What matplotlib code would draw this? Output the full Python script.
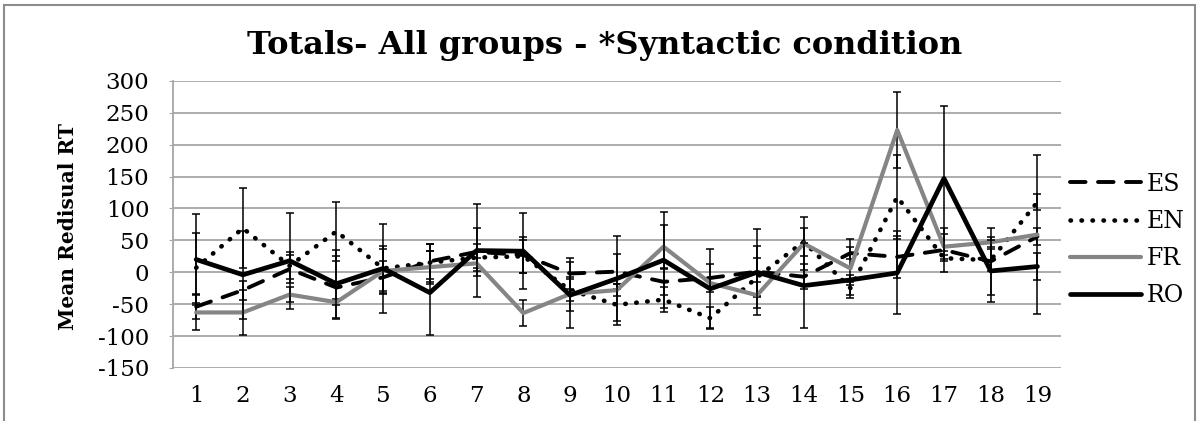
import matplotlib.pyplot as plt
from matplotlib.patches import Rectangle
from matplotlib.lines import Line2D

# categories 1..19
items = list(range(1, 20))
yticks = list(range(-150, 301, 50))

# group means
es = [-54, -28, 5, -24, -8, 17, 32, 27, -2, 1, -15, -9, 1, -7, 30, 24, 35, 17, 56]
en = [7, 69, 10, 64, 6, 15, 23, 25, -28, -51, -43, -72, -8, 48, -25, 118, 22, 19, 110]
fr = [-63, -63, -35, -47, 2, 8, 14, -64, -34, -28, 40, -17, -36, 45, 6, 223, 40, 47, 59]
ro = [20, -4, 18, -18, 6, -32, 34, 33, -36, -10, 19, -26, 0, -21, -12, -1, 147, 2, 9]

# error bar half-widths
es_err = [20, 15, 22, 50, 26, 28, 38, 28, 24, 28, 20, 22, 40, 20, 10, 33, 35, 52, 14]
en_err = [55, 63, 21, 46, 35, 30, 21, 26, 17, 32, 20, 17, 30, 22, 10, 66, 5, 17, 12]
fr_err = [27, 35, 12, 5, 35, 26, 8, 20, 26, 10, 34, 8, 20, 42, 46, 60, 20, 8, 125]
ro_err = [72, 69, 75, 53, 70, 66, 73, 60, 52, 67, 75, 62, 67, 67, 8, 65, 114, 49, 21]

plt.rcParams['font.family'] = ['DejaVu Serif']
plt.rcParams['axes.unicode_minus'] = False

fig = plt.figure(figsize=(12, 4.21), dpi=100)
ax = fig.add_axes([0.144, 0.126, 0.740, 0.682])

series = [
    ('ES', es, es_err, dict(color='black', lw=2.8, dashes=(4, 3.2), dash_capstyle='round')),
    ('EN', en, en_err, dict(color='black', lw=3.3, dashes=(0.1, 2.3), dash_capstyle='round')),
    ('FR', fr, fr_err, dict(color='#858585', lw=3.0, solid_capstyle='round')),
    ('RO', ro, ro_err, dict(color='black', lw=3.4, solid_capstyle='round')),
]

handles = []
for i, (name, vals, errs, style) in enumerate(series):
    ax.errorbar(items, vals, yerr=errs, fmt='none', ecolor='black',
                elinewidth=1.1, capsize=3, capthick=1.1, zorder=3 + i)
    ax.plot(items, vals, zorder=3 + i, **style)
    handles.append(Line2D([], [], label=name, **style))

ax.set_xlim(0.5, 19.5)
ax.set_ylim(-150, 300)
ax.set_xticks(items)
ax.set_yticks(yticks)
ax.grid(axis='y', color='#a6a6a6', lw=1.3)
ax.set_axisbelow(True)
for s in ['top', 'right', 'bottom']:
    ax.spines[s].set_visible(False)
ax.spines['left'].set_color('#a6a6a6')
ax.spines['left'].set_linewidth(1.3)
ax.tick_params(axis='y', length=3, color='#a6a6a6', labelsize=16.5, pad=14)
ax.tick_params(axis='x', length=0, labelsize=16.5, pad=12)

fig.text(0.504, 0.893, 'Totals- All groups - *Syntactic condition',
         ha='center', va='center', fontsize=23, fontweight='bold')
fig.text(0.057, 0.463, 'Mean Redisual RT', rotation=90, ha='center',
         va='center', fontsize=14.5, fontweight='bold')

fig.legend(handles=handles, loc='center left',
           bbox_to_anchor=(1070 / 1200, 1 - 240 / 421), frameon=False,
           fontsize=17, handlelength=3.0, handletextpad=0.25,
           labelspacing=0.6, borderpad=0, borderaxespad=0)

fig.patches.append(Rectangle((4 / 1200, -0.1), 1191 / 1200, 1.1 - 5 / 421,
                             transform=fig.transFigure, fill=False,
                             edgecolor='#8c8c8c', lw=1.5))

fig.savefig('out.png', dpi=100)
